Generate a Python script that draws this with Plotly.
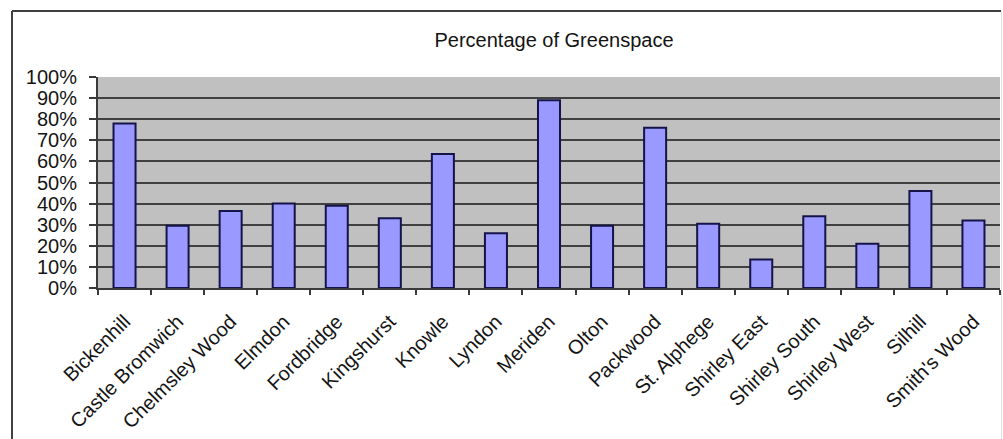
import plotly.graph_objects as go

# Greenspace share by ward
wards = [
    "Bickenhill", "Castle Bromwich", "Chelmsley Wood", "Elmdon", "Fordbridge",
    "Kingshurst", "Knowle", "Lyndon", "Meriden", "Olton", "Packwood",
    "St. Alphege", "Shirley East", "Shirley South", "Shirley West", "Silhill",
    "Smith's Wood",
]
greenspace_pct = [
    0.78, 0.295, 0.365, 0.40, 0.39,
    0.33, 0.635, 0.26, 0.89, 0.295, 0.76,
    0.305, 0.135, 0.34, 0.21, 0.46,
    0.32,
]
y_ticks = [0, 0.1, 0.2, 0.3, 0.4, 0.5, 0.6, 0.7, 0.8, 0.9, 1.0]
y_tick_text = ["0%", "10%", "20%", "30%", "40%", "50%", "60%", "70%", "80%", "90%", "100%"]

FONT = "Liberation Sans, Arial, sans-serif"
TEXT = "#141414"
AXIS = "#3a3a3a"

W, H = 1003, 439
L, R, T, B = 98, 3, 77, 151
pw, ph = W - L - R, H - T - B


def px_x(x):
    return (x - L) / pw


def px_y(y):
    return (H - B - y) / ph


fig = go.Figure(
    go.Bar(
        x=wards,
        y=greenspace_pct,
        marker=dict(color="#9999FF", line=dict(color="#14144a", width=2)),
        hoverinfo="x+y",
    )
)

fig.update_layout(
    width=W,
    height=H,
    margin=dict(l=L, r=R, t=T, b=B, pad=0, autoexpand=False),
    paper_bgcolor="white",
    plot_bgcolor="#C0C0C0",
    bargap=0.585,
    showlegend=False,
    font=dict(family=FONT, size=19, color=TEXT),
    title=dict(
        text="Percentage of Greenspace",
        x=554 / W,
        xref="container",
        xanchor="center",
        y=1 - 40 / H,
        yref="container",
        yanchor="middle",
        font=dict(family=FONT, size=20, color=TEXT),
    ),
    shapes=[
        # chart frame: dark left/top edges, faint right edge
        dict(type="line", xref="paper", yref="paper",
             x0=px_x(12), x1=px_x(12), y0=px_y(11), y1=px_y(460),
             line=dict(color="#404040", width=2)),
        dict(type="line", xref="paper", yref="paper",
             x0=px_x(12), x1=px_x(1001), y0=px_y(11), y1=px_y(11),
             line=dict(color="#404040", width=2)),
        dict(type="line", xref="paper", yref="paper",
             x0=px_x(1001.5), x1=px_x(1001.5), y0=px_y(11), y1=px_y(460),
             line=dict(color="#e2e2e2", width=1)),
    ],
)

fig.update_xaxes(
    type="category",
    automargin=False,
    tickangle=-45,
    ticks="outside",
    tickson="boundaries",
    ticklen=5,
    tickwidth=1.5,
    tickcolor=AXIS,
    showline=True,
    linecolor=AXIS,
    linewidth=2,
    showgrid=False,
    ticklabelstandoff=12,
    tickfont=dict(family=FONT, size=20, color=TEXT),
)

fig.update_yaxes(
    range=[0, 1],
    automargin=False,
    tickvals=y_ticks,
    ticktext=y_tick_text,
    ticks="outside",
    ticklen=7,
    tickwidth=1.5,
    tickcolor=AXIS,
    showline=True,
    linecolor=AXIS,
    linewidth=2,
    showgrid=True,
    gridcolor="#404040",
    gridwidth=1.5,
    zeroline=False,
    ticklabelstandoff=8,
    tickfont=dict(family=FONT, size=20, color=TEXT),
)

fig.write_html("out.html")
